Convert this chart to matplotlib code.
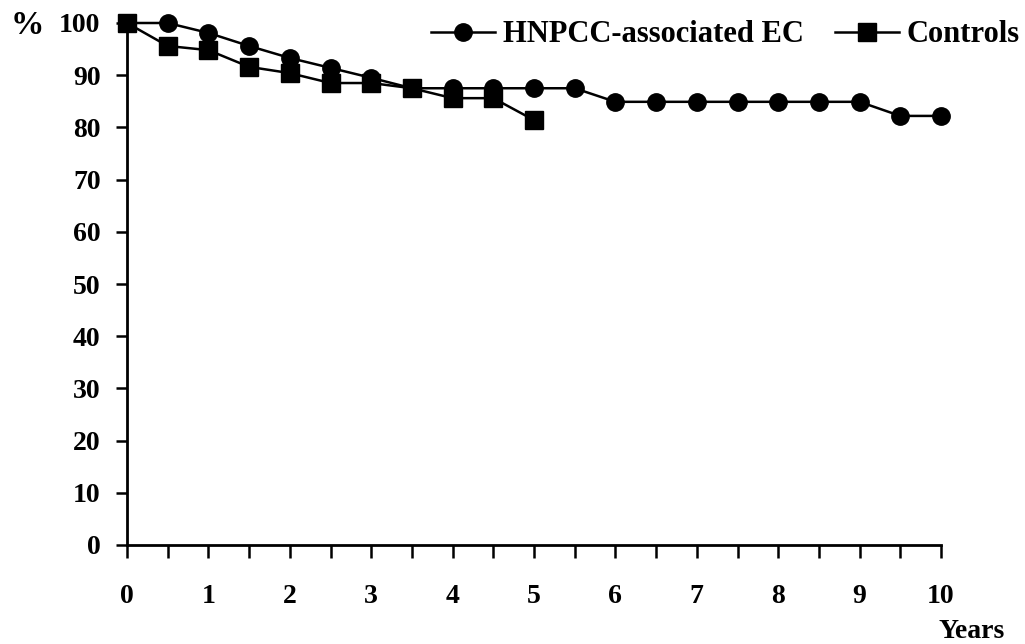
import matplotlib
matplotlib.use("Agg")
import matplotlib.pyplot as plt
from matplotlib.ticker import MultipleLocator

plt.rcParams['font.family'] = ['Liberation Serif', 'DejaVu Serif']
plt.rcParams['font.weight'] = 'bold'

# survival data
years_ec = [0, 0.5, 1, 1.5, 2, 2.5, 3, 3.5, 4, 4.5, 5, 5.5, 6, 6.5, 7, 7.5, 8, 8.5, 9, 9.5, 10]
surv_ec = [100, 100, 98.1, 95.6, 93.3, 91.4, 89.5, 87.5, 87.5, 87.5, 87.5, 87.5,
           84.9, 84.9, 84.9, 84.9, 84.9, 84.9, 84.9, 82.2, 82.2]
years_ctrl = [0, 0.5, 1, 1.5, 2, 2.5, 3, 3.5, 4, 4.5, 5]
surv_ctrl = [100, 95.6, 94.8, 91.6, 90.4, 88.5, 88.5, 87.5, 85.6, 85.6, 81.4]
x_ticks = list(range(0, 11))
y_ticks = list(range(0, 101, 10))

W, H = 1025, 644
fig = plt.figure(figsize=(W / 100, H / 100), dpi=100)
ax = fig.add_axes([127 / W, 1 - 545 / H, (941 - 127) / W, (545 - 23) / H])

ax.plot(years_ec, surv_ec, color='black', lw=1.8, marker='o', ms=12.5,
        label='HNPCC-associated EC', clip_on=False, zorder=3)
ax.plot(years_ctrl, surv_ctrl, color='black', lw=1.8, marker='s', ms=12.5,
        label='Controls', clip_on=False, zorder=4)

ax.set_xlim(0, 10)
ax.set_ylim(0, 100)
ax.set_xticks(x_ticks)
ax.set_yticks(y_ticks)
ax.xaxis.set_minor_locator(MultipleLocator(0.5))
ax.spines['top'].set_visible(False)
ax.spines['right'].set_visible(False)
for s in ['left', 'bottom']:
    ax.spines[s].set_linewidth(2)
ax.tick_params(axis='both', which='both', width=1.8, labelsize=20)
ax.tick_params(axis='x', which='both', direction='out', length=9, pad=19)
ax.tick_params(axis='y', which='major', direction='out', length=8, pad=11)

fig.text(11 / W, 1 - 25 / H, '%', fontsize=24, ha='left', va='center')
fig.text(972 / W, 1 - 631 / H, 'Years', fontsize=20, ha='center', va='center')

ax.legend(loc='center right', bbox_to_anchor=(1020 / W, 1 - 35 / H),
          bbox_transform=fig.transFigure, ncol=2, frameon=False,
          fontsize=22, handlelength=2.1, handletextpad=0.26, columnspacing=1.0,
          borderpad=0, borderaxespad=0, markerscale=1.0)

fig.savefig('out.png', dpi=100)
